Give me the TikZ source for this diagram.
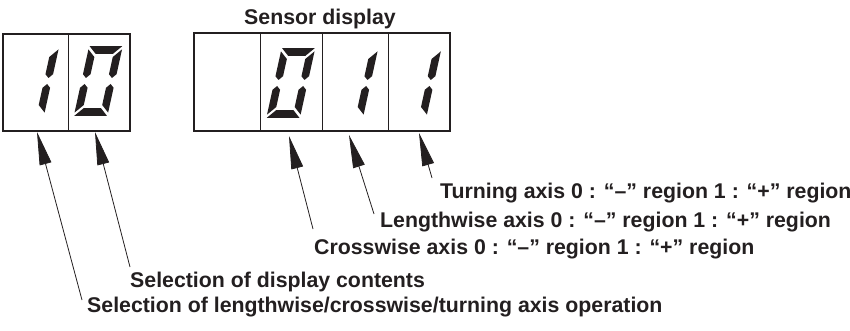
\documentclass[tikz,border=0pt]{standalone}
\usepackage{fontspec}
\setmainfont{Liberation Sans}
\usetikzlibrary{arrows.meta}
\definecolor{ink}{RGB}{35,31,32}
\def\sgW{26}\def\sgH{62}\def\sgM{31}\def\sgT{3.8}\def\sgA{0.5}\def\sgV{3.2}\def\sgG{3.0}
\newcommand\SegA{\fill[digit] ({-\sgT+\sgA},{-\sgT}) -- ({\sgW+\sgT-\sgA},{-\sgT}) -- ({\sgW-\sgT-\sgA},{\sgT}) -- ({\sgT+\sgA},{\sgT}) -- cycle;}
\newcommand\SegD{\fill[digit] ({\sgT+\sgA},{\sgH-\sgT}) -- ({\sgW-\sgT-\sgA},{\sgH-\sgT}) -- ({\sgW+\sgT-\sgA},{\sgH+\sgT}) -- ({-\sgT+\sgA},{\sgH+\sgT}) -- cycle;}
\newcommand\SegB{\fill[digit] ({\sgW+\sgT},{-\sgT+\sgV}) -- ({\sgW+\sgT},{\sgM-\sgT-\sgG}) -- ({\sgW},{\sgM-\sgG}) -- ({\sgW-\sgT},{\sgM-\sgT-\sgG}) -- ({\sgW-\sgT},{\sgT+\sgV}) -- cycle;}
\newcommand\SegC{\fill[digit] ({\sgW-\sgT},{\sgM+\sgT+\sgG}) -- ({\sgW},{\sgM+\sgG}) -- ({\sgW+\sgT},{\sgM+\sgT+\sgG}) -- ({\sgW+\sgT},{\sgH+\sgT-\sgV}) -- ({\sgW-\sgT},{\sgH-\sgT-\sgV}) -- cycle;}
\newcommand\SegF{\fill[digit] ({-\sgT},{-\sgT+\sgV}) -- ({\sgT},{\sgT+\sgV}) -- ({\sgT},{\sgM-\sgT-\sgG}) -- (0,{\sgM-\sgG}) -- ({-\sgT},{\sgM-\sgT-\sgG}) -- cycle;}
\newcommand\SegE{\fill[digit] ({-\sgT},{\sgM+\sgT+\sgG}) -- (0,{\sgM+\sgG}) -- ({\sgT},{\sgM+\sgT+\sgG}) -- ({\sgT},{\sgH-\sgT-\sgV}) -- ({-\sgT},{\sgH+\sgT-\sgV}) -- cycle;}
\newcommand\DigOne[2]{\begin{scope}[shift={(#1,#2)},xslant=0.22]\SegB\SegC\end{scope}}
\newcommand\DigZero[2]{\begin{scope}[shift={(#1,#2)},xslant=0.22]\SegA\SegB\SegC\SegD\SegE\SegF\end{scope}}
\tikzset{
  digit/.style={fill=ink},
  frame/.style={draw=ink,line width=2pt},
  divider/.style={draw=ink,line width=1pt},
  lbl/.style={inner sep=0pt,text=ink,font=\fontsize{21.3}{25}\selectfont\bfseries},
  ptr/.style={draw=ink,line width=0.8pt,-{Triangle[length=33pt,width=12pt]}}
}
\begin{document}
\begin{tikzpicture}[x=1pt,y=-1pt]
\useasboundingbox (0,0) rectangle (850,331);
% left display
\draw[frame] (3,34) rectangle (130,131);
\draw[divider] (68,34) -- (68,131);
\DigOne{28.6}{50}
\DigZero{92.1}{50}
% sensor display
\draw[frame] (194,33) rectangle (450,131);
\draw[divider] (260,33) -- (260,131);
\draw[divider] (322,33) -- (322,131);
\draw[divider] (388,33) -- (388,131);
\DigZero{284.6}{52}
\DigOne{347.6}{52}
\DigOne{410.9}{52}
% labels
\node[lbl,anchor=base] (title) at (320,25) {Sensor display};
\node[lbl,anchor=base west] (turn) at (440,198) {Turning axis 0 : “–” region 1 : “+” region};
\node[lbl,anchor=base west] (len) at (380,227) {Lengthwise axis 0 : “–” region 1 : “+” region};
\node[lbl,anchor=base west] (cross) at (314,254) {Crosswise axis 0 : “–” region 1 : “+” region};
\node[lbl,anchor=base west] (seldisp) at (130,287) {Selection of display contents};
\node[lbl,anchor=base west] (selaxis) at (87,312) {Selection of lengthwise/crosswise/turning axis operation};
% arrow ends
\coordinate (t1) at (37,132);   \coordinate (s1) at (82,300);
\coordinate (t2) at (95,132);   \coordinate (s2) at (130,267);
\coordinate (t3) at (289,136);  \coordinate (s3) at (313,229);
\coordinate (t4) at (349,135);  \coordinate (s4) at (374,214);
\coordinate (t5) at (419,133);  \coordinate (s5) at (432,178);
\draw[ptr] (s1) -- (t1);
\draw[ptr] (s2) -- (t2);
\draw[ptr] (s3) -- (t3);
\draw[ptr] (s4) -- (t4);
\draw[ptr] (s5) -- (t5);
\end{tikzpicture}
\end{document}
